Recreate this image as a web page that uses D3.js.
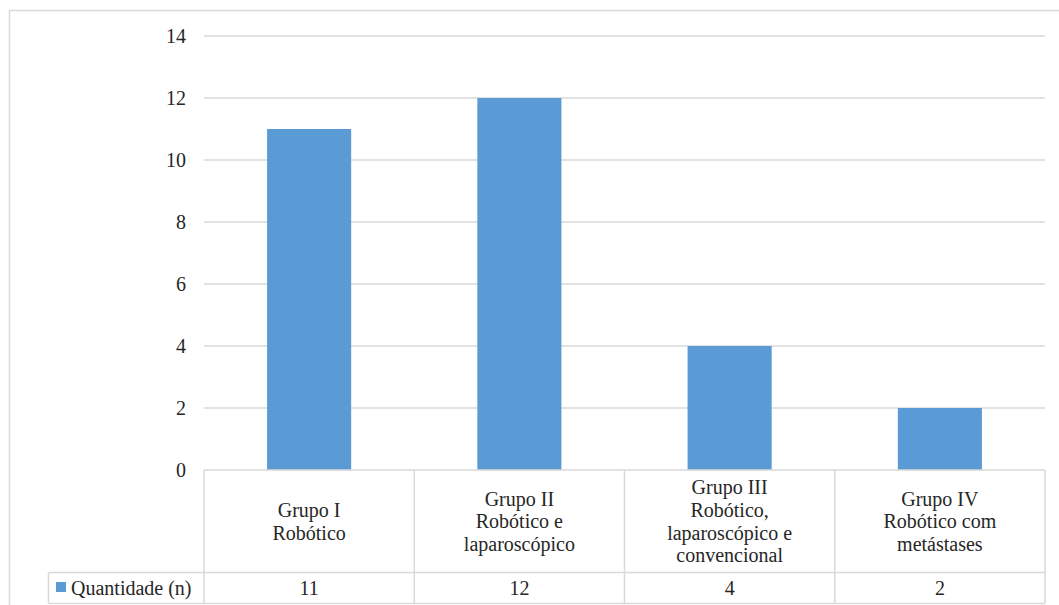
<!DOCTYPE html>
<html><head><meta charset="utf-8">
<script src="https://cdn.jsdelivr.net/npm/d3@7"></script>
<style>body{margin:0;background:#fff;} svg{display:block;} svg text{font-family:"Liberation Serif","Tinos","Times New Roman","DejaVu Serif",serif;}</style>
</head><body>
<script>
const categories = [
  ["Grupo I", "Robótico"],
  ["Grupo II", "Robótico e", "laparoscópico"],
  ["Grupo III", "Robótico,", "laparoscópico e", "convencional"],
  ["Grupo IV", "Robótico com", "metástases"]
];
const seriesName = "Quantidade (n)";
const values = [11, 12, 4, 2];
const yTicks = [0, 2, 4, 6, 8, 10, 12, 14];

(function () {
const W = 1059, H = 605;
const fs = 20;
const textColor = "#262626";
const gridColor = "#d9d9d9";
const barColor = "#5B9BD5";

const svg = d3.select("body").append("svg").attr("width", W).attr("height", H);
svg.append("rect").attr("width", W).attr("height", H).attr("fill", "#fff");
// outer chart border
svg.append("rect").attr("x", 9.5).attr("y", 10.5).attr("width", 1060).attr("height", 610)
  .attr("fill", "none").attr("stroke", gridColor).attr("stroke-width", 1.5);

const plotLeft = 204, plotRight = 1045, plotTop = 36, base = 470;
const x = d3.scaleBand().domain(d3.range(categories.length)).range([plotLeft, plotRight]).paddingInner(0).paddingOuter(0);
const y = d3.scaleLinear().domain([0, 14]).range([base, plotTop]);

// gridlines
svg.append("g").selectAll("line").data(yTicks.filter(d => d > 0)).join("line")
  .attr("x1", plotLeft).attr("x2", plotRight)
  .attr("y1", d => y(d)).attr("y2", d => y(d))
  .attr("stroke", gridColor).attr("stroke-width", 1.5);

// y tick labels
svg.append("g").selectAll("text").data(yTicks).join("text")
  .attr("x", 186).attr("y", d => y(d)).attr("dy", "0.35em")
  .attr("text-anchor", "end").attr("font-size", fs)
  .attr("fill", textColor).text(d => d);

// bars
const bw = x.bandwidth() * 0.4;
svg.append("g").selectAll("rect").data(values).join("rect")
  .attr("x", (d, i) => x(i) + (x.bandwidth() - bw) / 2)
  .attr("width", bw)
  .attr("y", d => y(d)).attr("height", d => y(0) - y(d))
  .attr("fill", barColor);

// data table
const headerBottom = 572.5, tableBottom = 603.5, legendLeft = 48.5;
const tg = svg.append("g").attr("stroke", gridColor).attr("stroke-width", 1.5).attr("fill", "none");
tg.append("line").attr("x1", plotLeft).attr("x2", plotRight).attr("y1", base).attr("y2", base);
tg.append("line").attr("x1", legendLeft).attr("x2", plotRight).attr("y1", headerBottom).attr("y2", headerBottom);
tg.append("line").attr("x1", legendLeft).attr("x2", plotRight).attr("y1", tableBottom).attr("y2", tableBottom);
tg.append("line").attr("x1", legendLeft).attr("x2", legendLeft).attr("y1", headerBottom).attr("y2", tableBottom);
const vlines = d3.range(categories.length + 1).map(i => i < categories.length ? x(i) : plotRight);
tg.selectAll("line.v").data(vlines).join("line").attr("class", "v")
  .attr("x1", d => d).attr("x2", d => d).attr("y1", base).attr("y2", tableBottom);

// category labels
const lh = 22.7;
const hc = (base + headerBottom) / 2;
categories.forEach((lines, i) => {
  const cx = x(i) + x.bandwidth() / 2;
  const t = svg.append("text").attr("text-anchor", "middle")
    .attr("font-size", fs).attr("fill", textColor);
  lines.forEach((s, j) => {
    t.append("tspan").attr("x", cx)
      .attr("y", hc + (j - (lines.length - 1) / 2) * lh).attr("dy", "0.35em").text(s);
  });
});

// values row
const rc = (headerBottom + tableBottom) / 2;
svg.append("g").selectAll("text").data(values).join("text")
  .attr("x", (d, i) => x(i) + x.bandwidth() / 2).attr("y", rc).attr("dy", "0.35em")
  .attr("text-anchor", "middle").attr("font-size", fs)
  .attr("fill", textColor).text(d => d);

// legend cell
svg.append("rect").attr("x", 56).attr("y", 582).attr("width", 10).attr("height", 10).attr("fill", barColor);
svg.append("text").attr("x", 71).attr("y", rc).attr("dy", "0.35em")
  .attr("font-size", fs).attr("fill", textColor).text(seriesName);
})();
</script>
</body></html>
